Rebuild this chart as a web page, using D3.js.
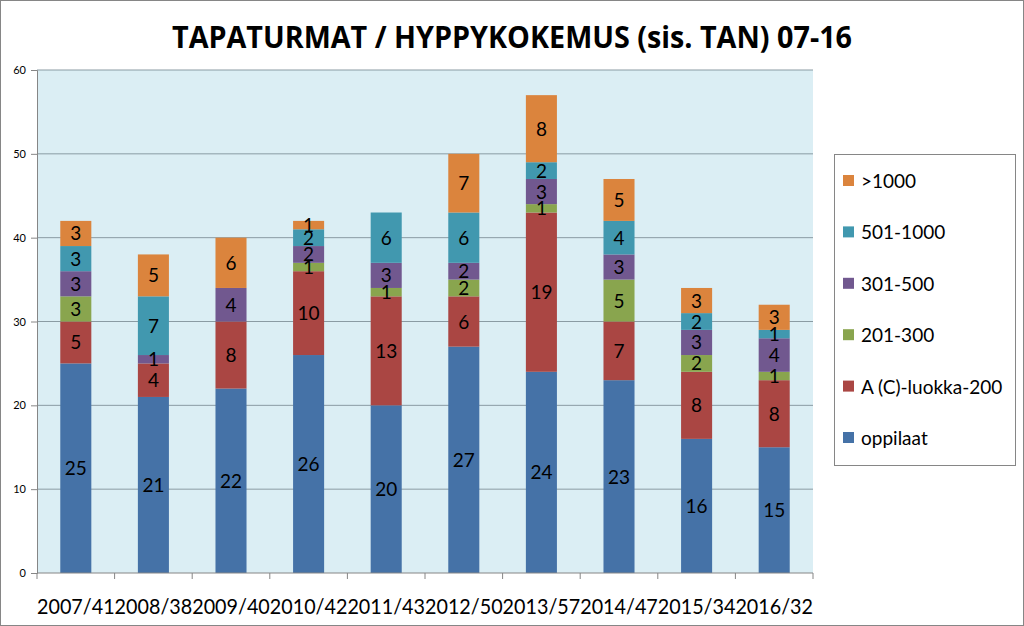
<!DOCTYPE html>
<html><head><meta charset="utf-8">
<script src="https://cdn.jsdelivr.net/npm/d3@7"></script>
<style>html,body{margin:0;padding:0;background:#fff;}svg{display:block;}</style>
</head><body>
<script>
const categories = ["2007/41","2008/38","2009/40","2010/42","2011/43","2012/50","2013/57","2014/47","2015/34","2016/32"];
const seriesNames = ["oppilaat","A (C)-luokka-200","201-300","301-500","501-1000",">1000"];
const oppilaat = [25,21,22,26,20,27,24,23,16,15];
const luokkaA  = [5,4,8,10,13,6,19,7,8,8];
const s201_300 = [3,0,0,1,1,2,1,5,2,1];
const s301_500 = [3,1,4,2,3,2,3,3,3,4];
const s501_1000= [3,7,0,2,6,6,2,4,2,1];
const s1000    = [3,5,6,1,0,7,8,5,3,3];
const yTicks = [0,10,20,30,40,50,60];
const colors = ["#4572A7","#AA4643","#89A54E","#71588F","#4198AF","#DB843D"];
const seriesValues = [oppilaat,luokkaA,s201_300,s301_500,s501_1000,s1000];

const W=1024,H=626;
const svg=d3.select("body").append("svg").attr("width",W).attr("height",H);
svg.append("rect").attr("x",0.5).attr("y",0.5).attr("width",W-1).attr("height",H-1).attr("fill","#fff").attr("stroke","#868686");

const m={left:37,right:813,top:70,bottom:573};
const x=d3.scaleBand().domain(categories).range([m.left,m.right]).paddingInner(0.6).paddingOuter(0.3);
const xb=d3.scaleBand().domain(categories).range([m.left,m.right]);
const y=d3.scaleLinear().domain([0,60]).range([m.bottom,m.top]);

svg.append("rect").attr("x",m.left).attr("y",m.top).attr("width",m.right-m.left).attr("height",m.bottom-m.top).attr("fill","#DBEEF4");
svg.append("g").selectAll("line").data(yTicks.slice(1)).join("line")
  .attr("x1",m.left).attr("x2",m.right).attr("y1",d=>y(d)).attr("y2",d=>y(d))
  .attr("stroke","#8A9BA3").attr("stroke-width",1);

const rows=categories.map((c,i)=>{const r={cat:c};seriesNames.forEach((s,j)=>r[s]=seriesValues[j][i]);return r;});
const stack=d3.stack().keys(seriesNames)(rows);
const g=svg.append("g");
stack.forEach((layer,j)=>{
  g.selectAll(null).data(layer.filter(d=>d[1]-d[0]>0)).join("rect")
   .attr("x",d=>x(d.data.cat)).attr("width",x.bandwidth())
   .attr("y",d=>y(d[1])).attr("height",d=>y(d[0])-y(d[1]))
   .attr("fill",colors[j]);
});
stack.forEach((layer,j)=>{
  g.selectAll(null).data(layer.filter(d=>d[1]-d[0]>0)).join("text")
   .attr("x",d=>x(d.data.cat)+x.bandwidth()/2).attr("y",d=>y((d[0]+d[1])/2)+7)
   .attr("text-anchor","middle").attr("font-family","Lato, 'Open Sans', sans-serif").attr("font-size",19)
   .attr("fill","#000").text(d=>d[1]-d[0]);
});

// Axes
const yAxis=d3.axisLeft(y).tickValues(yTicks).tickSize(6).tickPadding(5);
const ya=svg.append("g").attr("transform",`translate(${m.left},0)`).call(yAxis);
ya.select(".domain").attr("stroke","#868686");
ya.selectAll(".tick line").attr("stroke","#868686");
ya.selectAll("text").attr("font-family","Lato, sans-serif").attr("font-size",11).attr("fill","#000");

const xa=svg.append("g").attr("transform",`translate(0,${m.bottom})`);
xa.append("line").attr("x1",m.left).attr("x2",m.right).attr("stroke","#868686");
xa.selectAll("line.t").data(categories.concat(["__end"])).join("line").attr("class","t")
  .attr("x1",(d,i)=>m.left+i*xb.step()).attr("x2",(d,i)=>m.left+i*xb.step()).attr("y1",0).attr("y2",6).attr("stroke","#868686");
xa.selectAll("text").data(categories).join("text")
  .attr("x",d=>xb(d)+xb.bandwidth()/2).attr("y",41).attr("text-anchor","middle")
  .attr("font-family","Lato, sans-serif").attr("font-size",21).attr("fill","#000")
  .attr("textLength",77.6).attr("lengthAdjust","spacingAndGlyphs").text(d=>d);

// Title
svg.append("text").attr("x",512).attr("y",48).attr("text-anchor","middle")
  .attr("font-family","'Open Sans', sans-serif").attr("font-weight","bold").attr("font-size",30)
  .attr("textLength",680).attr("lengthAdjust","spacingAndGlyphs").attr("fill","#000")
  .text("TAPATURMAT / HYPPYKOKEMUS (sis. TAN) 07-16");

// Legend
const lg=svg.append("g");
lg.append("rect").attr("x",834.5).attr("y",154.5).attr("width",181).attr("height",311).attr("fill","#fff").attr("stroke","#868686");
const legendItems=seriesNames.map((s,j)=>({s,c:colors[j]})).reverse();
const ly=d3.scalePoint().domain(legendItems.map(d=>d.s)).range([181,438]);
lg.selectAll("rect.k").data(legendItems).join("rect").attr("class","k")
  .attr("x",843).attr("y",d=>ly(d.s)-6).attr("width",11).attr("height",11).attr("fill",d=>d.c);
lg.selectAll("text").data(legendItems).join("text")
  .attr("x",861).attr("y",d=>ly(d.s)+7).attr("font-family","Lato, sans-serif").attr("font-size",19).attr("fill","#000").text(d=>d.s);
</script>
</body></html>
